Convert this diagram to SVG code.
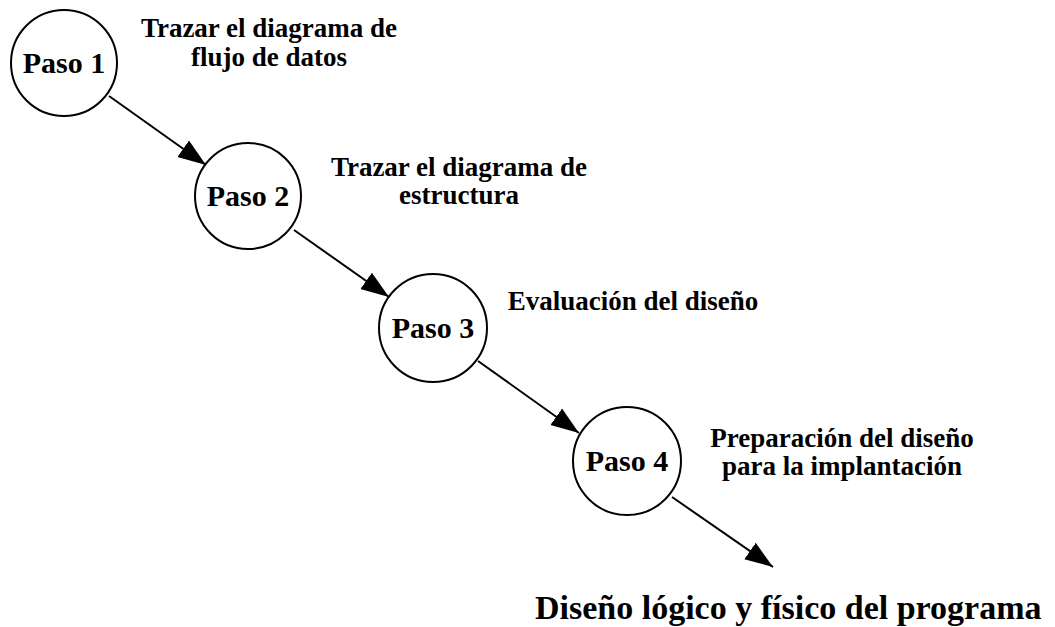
<svg xmlns="http://www.w3.org/2000/svg" width="1055" height="627" viewBox="0 0 1055 627">
<style>
.node circle{fill:#fff;stroke:#000;stroke-width:2}
.step{font-family:"Liberation Serif","Times New Roman",serif;font-weight:bold;font-size:30px;text-anchor:middle;fill:#000}
.lbl{font-family:"Liberation Serif","Times New Roman",serif;font-weight:bold;font-size:27px;text-anchor:middle;fill:#000}
.big{font-family:"Liberation Serif","Times New Roman",serif;font-weight:bold;font-size:34px;fill:#000}
.edge{stroke:#000;stroke-width:2;fill:none;marker-end:url(#arr)}
</style>
<defs>
<marker id="arr" markerUnits="userSpaceOnUse" markerWidth="29" markerHeight="22" refX="28" refY="11" orient="auto">
<path d="M0,1 L28,11 L0,21 z" fill="#000"/>
</marker>
</defs>
<rect width="1055" height="627" fill="#fff"/>
<g id="connectors">
<line class="edge" x1="109" y1="96" x2="206" y2="165"/>
<line class="edge" x1="294" y1="230" x2="389" y2="297"/>
<line class="edge" x1="478" y1="361" x2="579" y2="433"/>
<line class="edge" x1="672" y1="497" x2="773" y2="567"/>
</g>
<g id="paso1" class="node">
<circle cx="64" cy="63" r="53"/>
<text class="step" x="64" y="73">Paso 1</text>
</g>
<g id="paso2" class="node">
<circle cx="248" cy="196" r="53"/>
<text class="step" x="248" y="206">Paso 2</text>
</g>
<g id="paso3" class="node">
<circle cx="433" cy="328" r="54"/>
<text class="step" x="433" y="338">Paso 3</text>
</g>
<g id="paso4" class="node">
<circle cx="627" cy="461" r="54"/>
<text class="step" x="627" y="471">Paso 4</text>
</g>
<g id="label1">
<text class="lbl" x="269" y="37">Trazar el diagrama de</text>
<text class="lbl" x="269" y="66">flujo de datos</text>
</g>
<g id="label2">
<text class="lbl" x="459" y="176">Trazar el diagrama de</text>
<text class="lbl" x="459" y="204">estructura</text>
</g>
<g id="label3">
<text class="lbl" x="633" y="310">Evaluación del diseño</text>
</g>
<g id="label4">
<text class="lbl" x="842" y="447">Preparación del diseño</text>
<text class="lbl" x="842" y="475">para la implantación</text>
</g>
<g id="result">
<text class="big" x="535" y="619">Diseño lógico y físico del programa</text>
</g>
</svg>
